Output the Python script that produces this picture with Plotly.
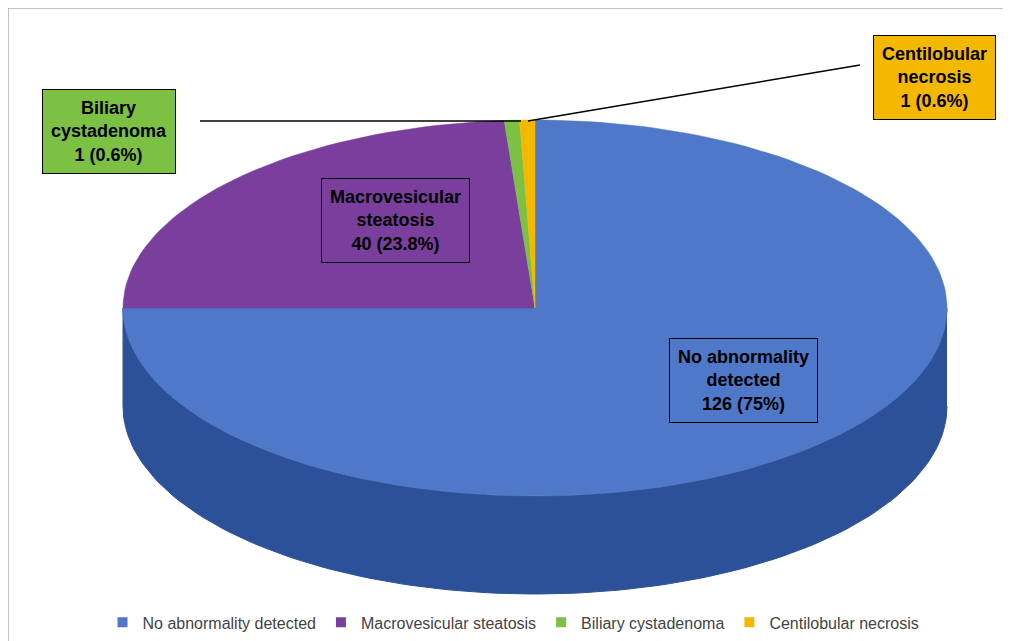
import numpy as np
import plotly.graph_objects as go

labels = ["No abnormality detected", "Macrovesicular steatosis", "Biliary cystadenoma", "Centilobular necrosis"]
counts = [126, 40, 1, 1]
pcts = ["75%", "23.8%", "0.6%", "0.6%"]
colors = ["#4f78c8", "#7a3f9d", "#7cc143", "#f5b800"]
side_color = "#2d5199"

# ellipse geometry in pixel space
cx, cy, rx, ry, depth = 527, 300, 412, 188, 98

def pt(theta, dy=0):
    return cx + rx * np.sin(theta), cy - ry * np.cos(theta) + dy

fig = go.Figure()

# side wall of the front half (all blue)
th = np.linspace(np.pi / 2, 3 * np.pi / 2, 120)
tx, ty = pt(th)
bx, by = pt(th[::-1], depth)
fig.add_trace(go.Scatter(x=np.r_[tx, bx], y=np.r_[ty, by], fill="toself", mode="lines",
                         fillcolor=side_color, line=dict(color=side_color, width=1),
                         showlegend=False, hoverinfo="skip"))

total = sum(counts)
start = 0.0
for lab, c, col in zip(labels, counts, colors):
    end = start + 2 * np.pi * c / total
    th = np.linspace(start, end, max(4, int(200 * c / total)))
    sx, sy = pt(th)
    fig.add_trace(go.Scatter(x=np.r_[cx, sx, cx], y=np.r_[cy, sy, cy], fill="toself", mode="lines",
                             fillcolor=col, line=dict(color=col, width=0.5),
                             showlegend=False, hoverinfo="skip"))
    fig.add_trace(go.Scatter(x=[None], y=[None], mode="markers", name=lab,
                             marker=dict(symbol="square", size=10, color=col)))
    start = end

boxes = [
    (735, 372, "No abnormality<br>detected<br>126 (75%)", colors[0]),
    (387, 212, "Macrovesicular<br>steatosis<br>40 (23.8%)", colors[1]),
    (101, 123, "Biliary<br>cystadenoma<br>1 (0.6%)", colors[2]),
    (926, 69, "Centilobular<br>necrosis<br>1 (0.6%)", colors[3]),
]
for x, y, t, col in boxes:
    fig.add_annotation(x=x, y=y, text="<b>" + t + "</b>", showarrow=False,
                       font=dict(size=18, color="black", family="Liberation Sans"),
                       bgcolor=col, bordercolor="black", borderwidth=1, borderpad=8)

fig.add_shape(type="line", x0=192, y0=113, x1=513, y1=113, line=dict(color="black", width=1.5))
fig.add_shape(type="line", x0=852, y0=57, x1=520, y1=113, line=dict(color="black", width=1.5))
fig.add_shape(type="rect", xref="paper", yref="paper", x0=0, y0=0, x1=1, y1=1,
              line=dict(color="#888888", width=1))

fig.update_xaxes(range=[0, 1011], visible=False)
fig.update_yaxes(range=[641, 0], visible=False)
fig.update_layout(
    width=1011, height=641, margin=dict(l=0, r=0, t=0, b=0),
    plot_bgcolor="white", paper_bgcolor="white",
    legend=dict(orientation="h", x=0.5, xanchor="center", y=0.015, yanchor="bottom",
                font=dict(size=16, family="Liberation Sans", color="#444")),
)
fig.write_html("out.html")
